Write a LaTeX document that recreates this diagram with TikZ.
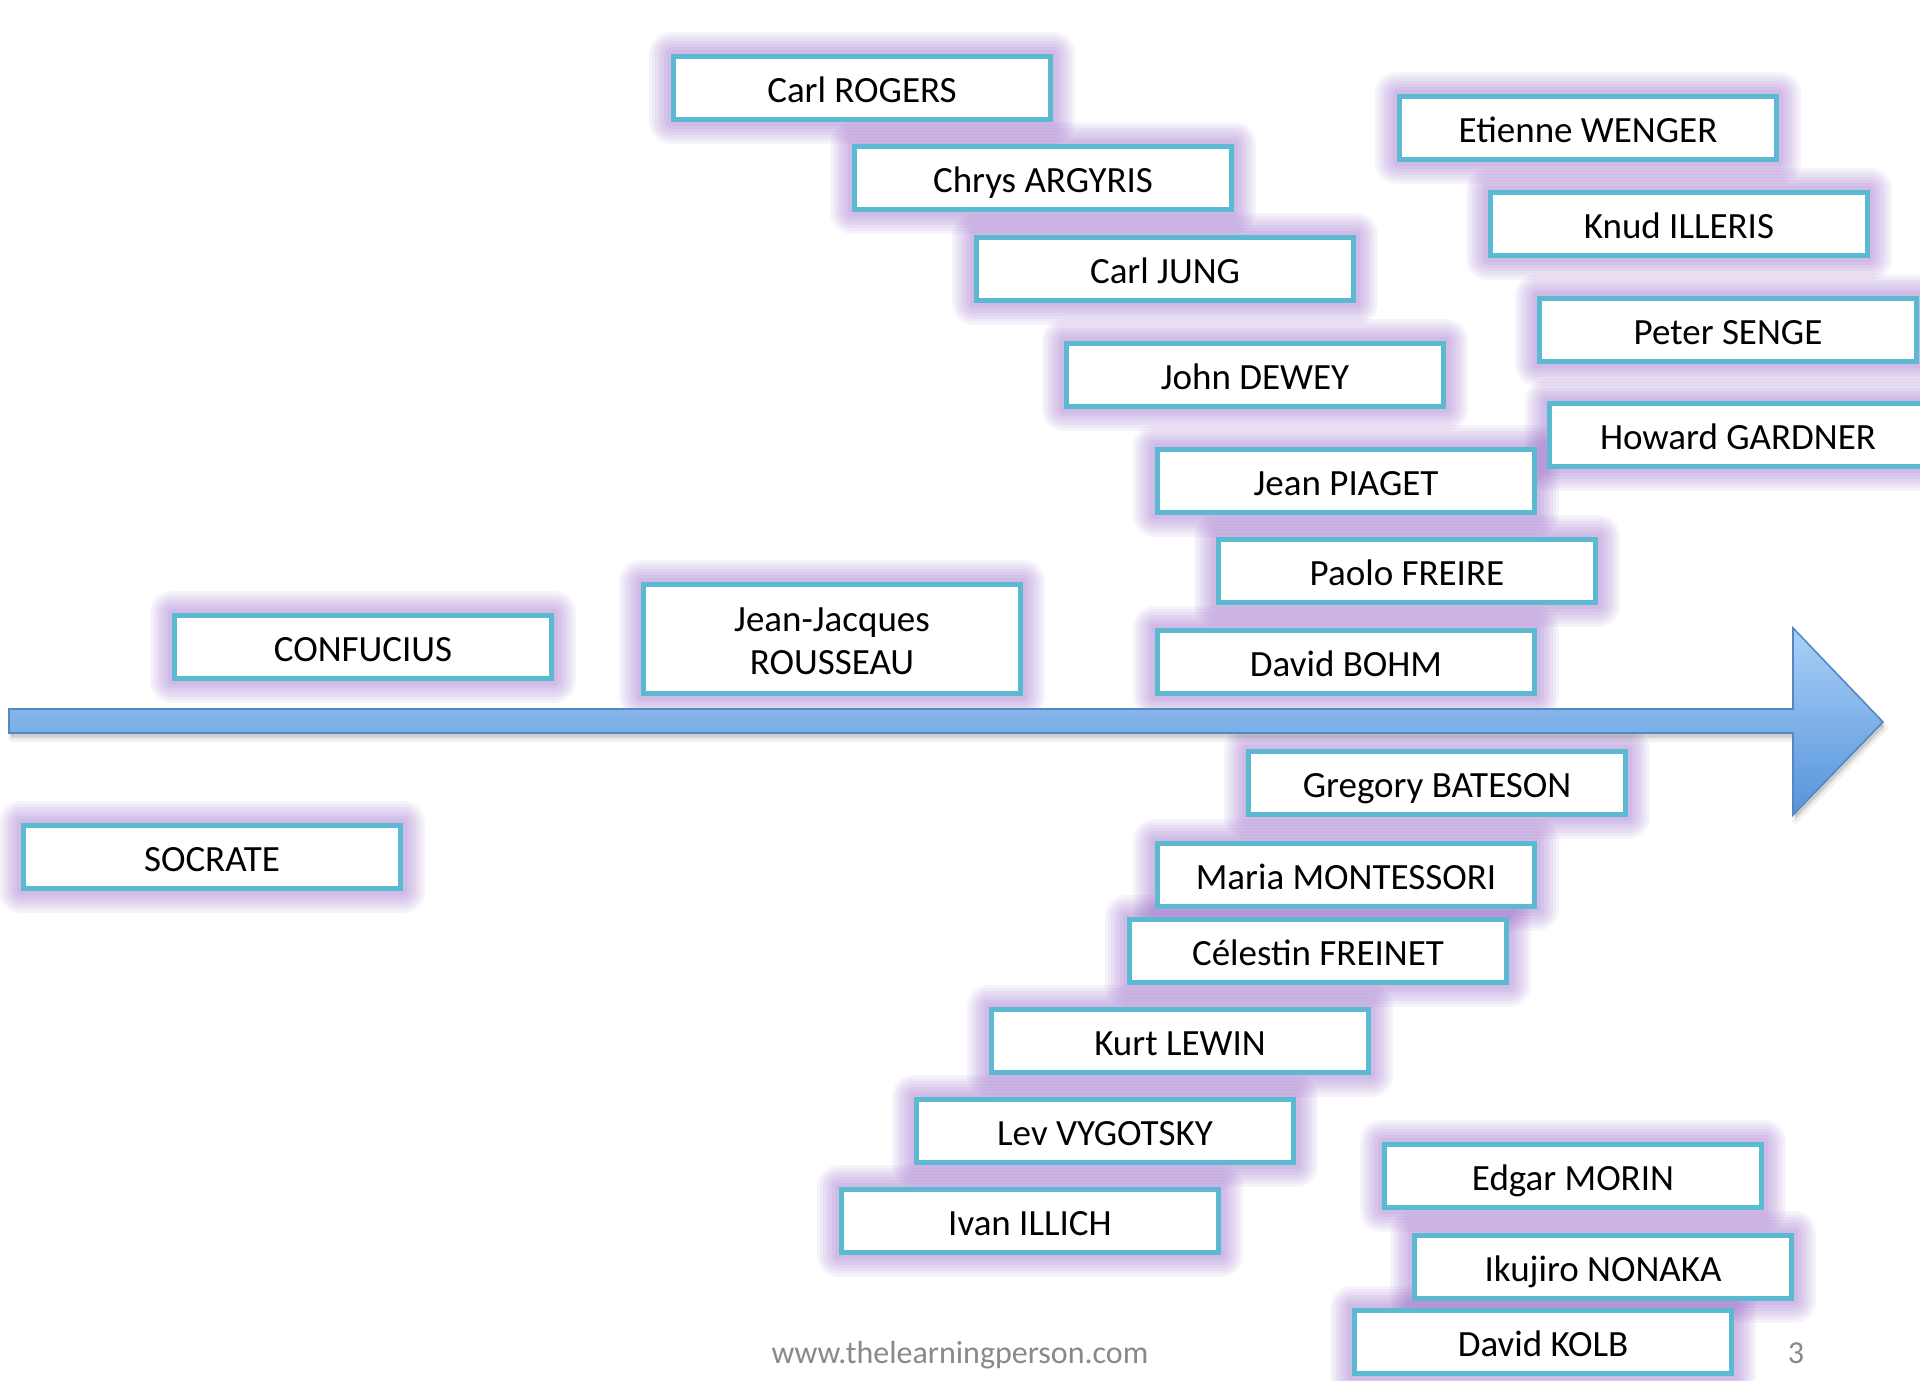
\documentclass[tikz,border=0pt]{standalone}
\usepackage{fontspec}
\setmainfont{Carlito}
\usetikzlibrary{backgrounds}
\definecolor{boxcyan}{RGB}{91,185,210}
\definecolor{glowc}{RGB}{140,85,195}
\definecolor{arrtop}{RGB}{170,208,248}
\definecolor{arrbot}{RGB}{85,148,218}
\definecolor{arredge}{RGB}{85,135,195}
\definecolor{footgray}{RGB}{137,137,137}
\begin{document}
\begin{tikzpicture}[x=0.5pt,y=-0.5pt,
  boxbase/.style={draw=boxcyan, line width=2.5pt, fill=white, inner sep=0pt,
    minimum width=188.5pt},
  person/.style={boxbase, minimum height=31.5pt, font=\fontsize{18.5}{20}\selectfont,
    text height=14.8pt, text depth=0.5pt},
  tallperson/.style={boxbase, minimum height=54.5pt, align=center,
    font=\fontsize{18.5}{21.4}\selectfont, text height=36pt, text depth=0.3pt},
  glowline/.style={draw=glowc, line join=round},
  footer/.style={text=footgray, font=\fontsize{16}{18}\selectfont, anchor=base, inner sep=0pt},
  arrowshape/.style={line join=miter}
]
\useasboundingbox (0,0) rectangle (1920,1380);

% arrow shadow
\path[fill=black, fill opacity=0.07, draw=black, draw opacity=0.05, line width=3pt, line join=round, shift={(2,6)}]
  (9,709) -- (1793,709) -- (1793,628) -- (1883,722) -- (1793,815) -- (1793,733) -- (9,733) -- cycle;
\path[fill=black, fill opacity=0.12, shift={(1.5,3.5)}]
  (9,709) -- (1793,709) -- (1793,628) -- (1883,722) -- (1793,815) -- (1793,733) -- (9,733) -- cycle;
% arrow
\path[arrowshape, draw=arredge, line width=0.8pt, top color=arrtop, bottom color=arrbot]
  (9,709) -- (1793,709) -- (1793,628) -- (1883,722) -- (1793,815) -- (1793,733) -- (9,733) -- cycle;

% people (centre = left+191, top+34)
\node[person] (rogers)     at (862,88)   {Carl ROGERS};
\node[person] (argyris)    at (1043,178) {Chrys ARGYRIS};
\node[person] (jung)       at (1165,269) {Carl JUNG};
\node[person] (dewey)      at (1255,375) {John DEWEY};
\node[person] (piaget)     at (1346,481) {Jean PIAGET};
\node[person] (freire)     at (1407,571) {Paolo FREIRE};
\node[person] (bohm)       at (1346,662) {David BOHM};
\node[person] (wenger)     at (1588,128) {Etienne WENGER};
\node[person] (illeris)    at (1679,224) {Knud ILLERIS};
\node[person] (senge)      at (1728,330) {Peter SENGE};
\node[person] (gardner)    at (1738,435) {Howard GARDNER};
\node[person] (confucius)  at (363,647)  {CONFUCIUS};
\node[tallperson] (rousseau) at (832,639) {Jean-Jacques\\ROUSSEAU};
\node[person] (socrate)    at (212,857)  {SOCRATE};
\node[person] (bateson)    at (1437,783) {Gregory BATESON};
\node[person] (montessori) at (1346,875) {Maria MONTESSORI};
\node[person] (freinet)    at (1318,951) {Célestin FREINET};
\node[person] (lewin)      at (1180,1041) {Kurt LEWIN};
\node[person] (vygotsky)   at (1105,1131) {Lev VYGOTSKY};
\node[person] (illich)     at (1030,1221) {Ivan ILLICH};
\node[person] (morin)      at (1573,1176) {Edgar MORIN};
\node[person] (nonaka)     at (1603,1267) {Ikujiro NONAKA};
\node[person] (kolb)       at (1543,1342) {David KOLB};

% glows
\begin{scope}[on background layer]
  \fill[white] (0,0) rectangle (1920,1380);
  \foreach \n in {rogers,argyris,jung,dewey,piaget,freire,bohm,wenger,illeris,senge,gardner,confucius,rousseau,socrate,bateson,montessori,freinet,lewin,vygotsky,illich,morin,nonaka,kolb}{
    \foreach \w in {22,19,16,13,10,7,4}{
      \draw[glowline, line width=\w pt, draw opacity=0.065] (\n.north west) rectangle (\n.south east);
    }
  }
\end{scope}

% footer
\node[footer] (site) at (960,1363) {www.thelearningperson.com};
\node[footer] (page) at (1796,1363) {3};
\end{tikzpicture}
\end{document}
